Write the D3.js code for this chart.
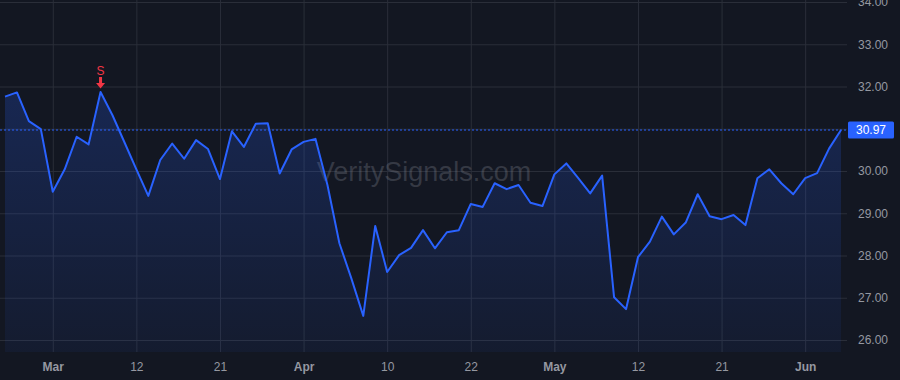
<!DOCTYPE html>
<html><head><meta charset="utf-8">
<script src="https://cdn.jsdelivr.net/npm/d3@7"></script>
<style>
html,body{margin:0;padding:0;background:#131722;}
svg{display:block;font-family:"Liberation Sans",Arial,sans-serif;}
</style></head>
<body><svg id="c" width="900" height="380"></svg>
<script>
const values = [31.76,31.86,31.18,30.99,29.51,30.04,30.81,30.63,31.87,31.32,
30.68,30.04,29.41,30.26,30.65,30.29,30.73,30.52,29.81,30.94,
30.57,31.12,31.13,29.94,30.51,30.69,30.76,29.67,28.29,27.46,
26.57,28.70,27.61,28.01,28.18,28.60,28.17,28.55,28.60,29.22,
29.15,29.71,29.57,29.67,29.25,29.17,29.92,30.18,29.83,29.47,
29.89,27.01,26.73,27.96,28.33,28.92,28.50,28.78,29.45,28.93,
28.86,28.96,28.72,29.83,30.04,29.71,29.45,29.83,29.95,30.53,30.97];
const tickIndex = [4,11,18,25,32,39,46,53,60,67];
const tickLabels = ["Mar","12","21","Apr","10","22","May","12","21","Jun"];
const monthLabels = ["Mar","Apr","May","Jun"];
const yTicks = [26,27,28,29,30,31,32,33,34];
const yTickShown = [26,27,28,29,30,32,33,34];
const lastValue = 30.97;
const signalIndex = [8];
const signalText = ["S"];
const watermark = "VeritySignals.com";

const svg = d3.select("#c");
const W = 900, H = 380, plotR = 847, plotB = 352;
const x = d3.scaleLinear().domain([0, values.length-1]).range([5, 841]);
const y = d3.scaleLinear().domain([26, 34]).range([340, 2]);

svg.append("rect").attr("width",W).attr("height",H).attr("fill","#131722");

// gridlines
const gx = svg.append("g").attr("transform",`translate(0,${plotB})`)
  .call(d3.axisBottom(x).tickValues(tickIndex).tickSize(-plotB).tickFormat(""));
gx.select(".domain").remove();
gx.selectAll("line").attr("stroke","#2a2e39").attr("stroke-width",1);
const gy = svg.append("g").attr("transform",`translate(${plotR},0)`)
  .call(d3.axisLeft(y).tickValues(yTicks).tickSize(plotR).tickFormat(""));
gy.select(".domain").remove();
gy.selectAll("line").attr("stroke","#2a2e39").attr("stroke-width",1);

// watermark
svg.append("text").attr("x",424).attr("y",172).attr("text-anchor","middle")
  .attr("dominant-baseline","central").attr("font-size",27)
  .attr("fill","rgba(120,123,134,0.35)").text(watermark);

// area
const defs = svg.append("defs");
const grad = defs.append("linearGradient").attr("id","g").attr("x1",0).attr("x2",0).attr("y1",0).attr("y2",1)
  .attr("gradientUnits","userSpaceOnUse").attr("y1",y(32)).attr("y2",plotB);
grad.append("stop").attr("offset",0).attr("stop-color","#2962ff").attr("stop-opacity",0.22);
grad.append("stop").attr("offset",1).attr("stop-color","#2962ff").attr("stop-opacity",0.06);
svg.append("path").datum(values)
  .attr("d", d3.area().x((d,i)=>x(i)).y0(plotB).y1(d=>y(d)))
  .attr("fill","url(#g)");
svg.append("path").datum(values)
  .attr("d", d3.line().x((d,i)=>x(i)).y(d=>y(d)))
  .attr("fill","none").attr("stroke","#2962ff").attr("stroke-width",2).attr("stroke-linejoin","round");

// last value dotted line
svg.append("line").attr("x1",0).attr("x2",plotR).attr("y1",y(lastValue)).attr("y2",y(lastValue))
  .attr("stroke","#2962ff").attr("stroke-width",1).attr("stroke-dasharray","2,2");

// x axis labels
const xa = svg.append("g").attr("transform",`translate(0,${plotB})`)
  .call(d3.axisBottom(x).tickValues(tickIndex).tickSize(0).tickPadding(10)
    .tickFormat((d,i)=>tickLabels[i]));
xa.select(".domain").remove();
xa.selectAll("text").attr("font-size",12).attr("fill","#9598a1")
  .attr("font-family","Liberation Sans, Arial, sans-serif")
  .attr("font-weight",(d,i)=>monthLabels.includes(tickLabels[i])?"bold":"normal");

// y axis labels
const ya = svg.append("g").attr("transform",`translate(${plotR},0)`)
  .call(d3.axisRight(y).tickValues(yTickShown).tickSize(0).tickPadding(11).tickFormat(d3.format(".2f")));
ya.select(".domain").remove();
ya.selectAll("text").attr("font-size",12).attr("fill","#9598a1")
  .attr("font-family","Liberation Sans, Arial, sans-serif");

// last value label
const ly = y(lastValue);
svg.append("rect").attr("x",848).attr("y",ly-8.5).attr("width",46).attr("height",17).attr("rx",1.5).attr("fill","#2962ff");
svg.append("text").attr("x",871).attr("y",ly).attr("text-anchor","middle").attr("dominant-baseline","central")
  .attr("font-size",12).attr("fill","#ffffff").text(d3.format(".2f")(lastValue));

// signal marker
signalIndex.forEach((si,k)=>{
  const px = x(si), py = y(values[si]);
  svg.append("text").attr("x",px).attr("y",py-21).attr("text-anchor","middle")
    .attr("dominant-baseline","central").attr("font-size",12).attr("fill","#f23645").text(signalText[k]);
  svg.append("path")
    .attr("d",`M${px-1.5},${py-15} L${px+1.5},${py-15} L${px+1.5},${py-9} L${px+4.5},${py-9} L${px},${py-3.5} L${px-4.5},${py-9} L${px-1.5},${py-9} Z`)
    .attr("fill","#f23645");
});
</script></body></html>
